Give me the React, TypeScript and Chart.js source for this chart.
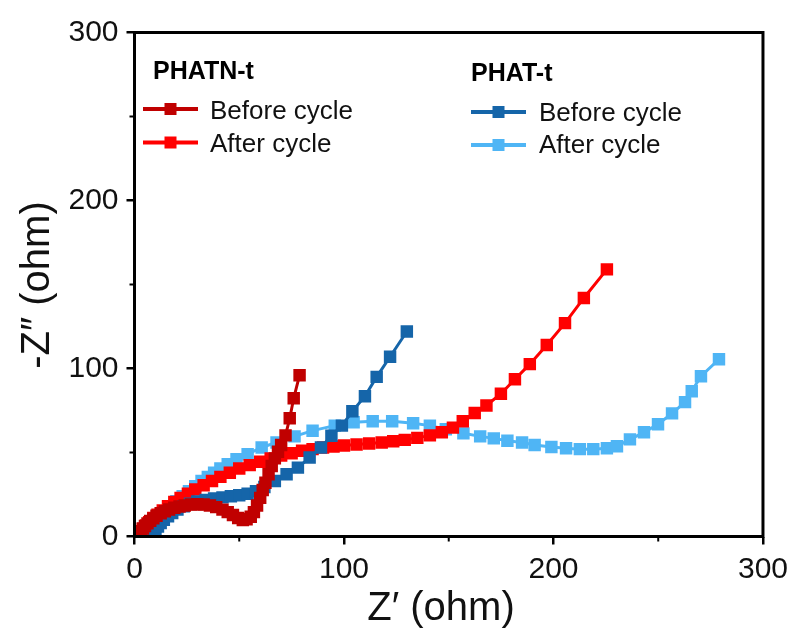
import React, { useEffect, useRef } from "react";
import { Chart, registerables } from "chart.js";

Chart.register(...registerables);

const FONT = "'Liberation Sans', Arial, Helvetica, sans-serif";

// Axis ticks
const xTicks = [0, 100, 200, 300];
const yTicks = [0, 100, 200, 300];
const minorTicks = [50, 150, 250];

const xTitle = "Z\u2032 (ohm)";
const yTitle = "-Z\u2033 (ohm)";

const groupTitles = ["PHATN-t", "PHAT-t"];
const seriesLabels = ["Before cycle", "After cycle"];

// Nyquist data, [Z' (ohm), -Z'' (ohm)]
const phatnBefore: [number, number][] = [
  [1.5, 0.5], [2.2, 1.8], [3, 3.2], [4, 4.8], [5, 6.3], [6.2, 7.8], [7.5, 9.3], [9, 10.8],
  [10.5, 12.3], [12.5, 13.8], [14.5, 15], [16.5, 16.1], [19, 17.1], [21.5, 17.9], [24, 18.5],
  [27, 19], [30, 19.2], [33, 19], [36, 18.5], [39, 17.5], [42, 16], [44.5, 14.5], [47, 12.8],
  [49.5, 11], [51.7, 9.8], [53.5, 10.3], [55.5, 11.8], [57, 14.5], [58.5, 18.5], [60, 23],
  [61.2, 27.7], [62.5, 32], [64, 37], [65.5, 42], [67, 46.5], [68.5, 50.5], [70, 54.5],
  [72.1, 60.2], [74.1, 70.4], [76, 82.3], [78.8, 96],
];

const phatnAfter: [number, number][] = [
  [2, 0.5], [3, 2.5], [4, 4.5], [5.5, 6.5], [7, 8.5], [9, 11], [11, 13], [13.5, 15.5],
  [16, 18], [19, 20.5], [22, 23], [25.5, 25.5], [29, 28], [33, 30.5], [37, 33], [41, 35.5],
  [45.5, 38], [50, 40.5], [55, 42.5], [60, 44.5], [65, 46.5], [70, 48.2], [75, 49.6],
  [80, 51], [85, 52], [90, 53], [95, 53.6], [100, 54.2], [106, 54.8], [112, 55.4],
  [118, 56], [123.5, 56.7], [129, 57.5], [135, 58.7], [141, 60.2], [146.7, 62], [152, 64.8],
  [156.7, 68.6], [162.4, 73.5], [168, 78], [174.9, 85], [181.6, 93.6], [188.7, 102.6],
  [196.8, 114], [205.5, 127], [214.5, 142], [225.5, 159],
];

const phatBefore: [number, number][] = [
  [8, 0.3], [9, 2], [10, 4], [11.2, 6], [12.5, 8], [14, 10], [16, 12], [18, 14], [20.5, 16],
  [23.5, 18], [26.5, 19.5], [30, 20.8], [34, 21.8], [38, 22.6], [42, 23.3], [46, 24],
  [50, 24.6], [54, 25.5], [58, 27], [62, 29.5], [67, 33], [72.6, 37], [78, 41], [83.6, 47],
  [89, 53], [94, 60], [99, 66], [104, 74.5], [110, 83.5], [115.6, 95], [122, 107], [130, 122],
];

const phatAfter: [number, number][] = [
  [8, 0.3], [9, 3], [10, 6], [11.5, 9], [13, 12], [15, 15], [17.5, 18], [20, 21], [23, 24],
  [26, 27], [29, 30], [32, 33], [35, 35.5], [38, 38], [41, 40.5], [44.5, 43], [48.7, 46],
  [54, 49], [60.7, 53], [67.8, 56], [76.4, 59.6], [85, 63], [95.6, 66], [104.6, 68],
  [113.7, 68.6], [123, 68.6], [133, 67.4], [141, 66], [148.6, 63.8], [157, 61.4], [165, 59.6],
  [171.5, 58.4], [178, 57], [185, 56], [191, 54.5], [199, 53.3], [206, 52.5], [212.6, 52],
  [219, 52], [225.5, 52.5], [230.3, 53.7], [236.5, 57.8], [243.2, 62], [249.9, 66.8],
  [256.6, 73.3], [262.8, 80], [266, 86.5], [270.4, 95.4], [279, 105.5],
];

const DARK_RED = "#C00000";
const RED = "#FF0000";
const DARK_BLUE = "#1565A9";
const LIGHT_BLUE = "#4FB5F5";

// Legend blocks: heading plus two line/marker samples
const legendGroups = [
  {
    title: groupTitles[0],
    titleX: 153, titleY: 79,
    lineX: 143, textX: 210,
    rows: [
      { label: seriesLabels[0], color: DARK_RED, y: 109, baseline: 119 },
      { label: seriesLabels[1], color: RED, y: 142.5, baseline: 152 },
    ],
  },
  {
    title: groupTitles[1],
    titleX: 471, titleY: 81,
    lineX: 471, textX: 539,
    rows: [
      { label: seriesLabels[0], color: DARK_BLUE, y: 112, baseline: 121 },
      { label: seriesLabels[1], color: LIGHT_BLUE, y: 145, baseline: 153 },
    ],
  },
];

const decorPlugin = {
  id: "frameLegendTitles",
  afterDraw(chart: any) {
    const { ctx, chartArea, scales } = chart;
    const { left, right, top, bottom } = chartArea;
    ctx.save();

    // minor ticks
    ctx.strokeStyle = "#000";
    ctx.lineWidth = 2;
    minorTicks.forEach((v) => {
      const px = scales.x.getPixelForValue(v);
      ctx.beginPath();
      ctx.moveTo(px, bottom);
      ctx.lineTo(px, bottom + 5);
      ctx.stroke();
      const py = scales.y.getPixelForValue(v);
      ctx.beginPath();
      ctx.moveTo(left, py);
      ctx.lineTo(left - 5, py);
      ctx.stroke();
    });

    // plot frame
    ctx.lineWidth = 3;
    ctx.strokeRect(left, top, right - left, bottom - top);

    // legend
    legendGroups.forEach((g) => {
      ctx.fillStyle = "#000";
      ctx.font = `bold 25px ${FONT}`;
      ctx.textAlign = "left";
      ctx.textBaseline = "alphabetic";
      ctx.fillText(g.title, g.titleX, g.titleY);
      g.rows.forEach((r) => {
        ctx.strokeStyle = r.color;
        ctx.lineWidth = 4;
        ctx.beginPath();
        ctx.moveTo(g.lineX, r.y);
        ctx.lineTo(g.lineX + 55, r.y);
        ctx.stroke();
        ctx.fillStyle = r.color;
        ctx.fillRect(g.lineX + 27.5 - 6, r.y - 6, 12, 12);
        ctx.fillStyle = "#111";
        ctx.font = `26px ${FONT}`;
        ctx.fillText(r.label, g.textX, r.baseline);
      });
    });

    // axis titles
    ctx.fillStyle = "#111";
    ctx.font = `40px ${FONT}`;
    ctx.textAlign = "center";
    ctx.textBaseline = "alphabetic";
    ctx.fillText(xTitle, 441, 620);
    ctx.translate(49, 285);
    ctx.rotate(-Math.PI / 2);
    ctx.fillText(yTitle, 0, 0);

    ctx.restore();
  },
};

function series(data: [number, number][], color: string) {
  return {
    data: data.map(([x, y]) => ({ x, y })),
    showLine: true,
    borderColor: color,
    backgroundColor: color,
    borderWidth: 3,
    pointStyle: "rect" as const,
    pointRadius: 8.8,
    pointBorderWidth: 0,
    pointBackgroundColor: color,
    clip: 0,
  };
}

export default function App() {
  const canvasRef = useRef<HTMLCanvasElement | null>(null);

  useEffect(() => {
    const canvas = canvasRef.current;
    if (!canvas) return;
    const tickFont = { family: FONT, size: 30 };
    const chart = new Chart(canvas, {
      type: "scatter",
      data: {
        // first dataset is painted on top
        datasets: [
          series(phatnBefore, DARK_RED),
          series(phatBefore, DARK_BLUE),
          series(phatnAfter, RED),
          series(phatAfter, LIGHT_BLUE),
        ],
      },
      options: {
        responsive: false,
        animation: false,
        events: [],
        layout: { padding: { top: 32.5, right: 31, left: 0, bottom: 0 } },
        plugins: { legend: { display: false }, tooltip: { enabled: false } },
        scales: {
          x: {
            type: "linear",
            min: xTicks[0],
            max: xTicks[xTicks.length - 1],
            afterBuildTicks: (s: any) => {
              s.ticks = xTicks.map((v) => ({ value: v }));
            },
            afterFit: (s: any) => {
              s.height = 98.5;
            },
            ticks: { font: tickFont, color: "#111", padding: 7, maxRotation: 0 },
            grid: { drawOnChartArea: false, drawTicks: true, tickLength: 8, color: "#000", lineWidth: 2.5 },
            border: { display: false },
          },
          y: {
            type: "linear",
            min: yTicks[0],
            max: yTicks[yTicks.length - 1],
            afterBuildTicks: (s: any) => {
              s.ticks = yTicks.map((v) => ({ value: v }));
            },
            afterFit: (s: any) => {
              s.width = 134.5;
            },
            ticks: { font: tickFont, color: "#111", padding: 8 },
            grid: { drawOnChartArea: false, drawTicks: true, tickLength: 8, color: "#000", lineWidth: 2.5 },
            border: { display: false },
          },
        },
      },
      plugins: [decorPlugin],
    });
    return () => chart.destroy();
  }, []);

  return (
    <div style={{ position: "fixed", left: 0, top: 0, width: 795, height: 635, background: "#fff" }}>
      <canvas ref={canvasRef} width={795} height={635} style={{ display: "block" }} />
    </div>
  );
}
